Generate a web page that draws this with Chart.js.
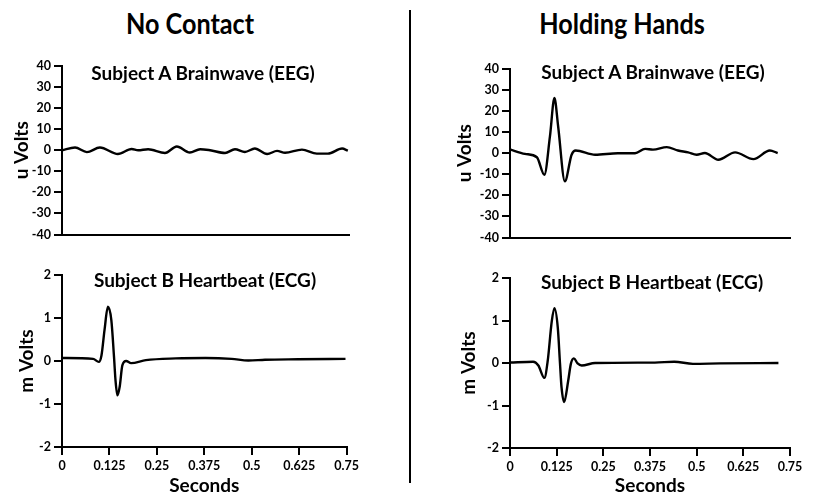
<!DOCTYPE html>
<html>
<head>
<meta charset="utf-8">
<script src="https://cdn.jsdelivr.net/npm/chart.js@4/dist/chart.umd.min.js"></script>
<style>
  body { margin: 0; background: #fff; }
  #page { position: relative; width: 813px; height: 495px; overflow: hidden; font-family: Lato, "Open Sans", sans-serif; color: #000; }
  canvas { position: absolute; }
  .head { position: absolute; top: 9px; width: 300px; text-align: center; font-weight: 700; font-size: 28px; line-height: 28px; transform: scaleX(0.9); }
  .sub { position: absolute; width: 300px; text-align: center; font-weight: 700; font-size: 19px; line-height: 19px; }
  #divider { position: absolute; left: 409px; top: 10px; width: 2px; height: 473px; background: #000; }
</style>
</head>
<body>
<div id="page">
  <div class="head" style="left:40px">No Contact</div>
  <div class="head" style="left:472px">Holding Hands</div>
  <div id="divider"></div>

  <canvas id="eeg-left"  width="362" height="195" style="left:0;top:50px"></canvas>
  <canvas id="ecg-left"  width="362" height="240" style="left:0;top:255px"></canvas>
  <canvas id="eeg-right" width="365" height="198" style="left:448px;top:50px"></canvas>
  <canvas id="ecg-right" width="365" height="240" style="left:448px;top:255px"></canvas>

  <div class="sub" style="left:53px;top:63px">Subject A Brainwave (EEG)</div>
  <div class="sub" style="left:503px;top:62px">Subject A Brainwave (EEG)</div>
  <div class="sub" style="left:55px;top:270px">Subject B Heartbeat (ECG)</div>
  <div class="sub" style="left:502px;top:272px">Subject B Heartbeat (ECG)</div>
</div>

<script>
// ─── Donnees ────────────────────────────────────────────────────────────────
const xTicks      = [0, 0.125, 0.25, 0.375, 0.5, 0.625, 0.75];
const xTickLabels = ['0', '0.125', '0.25', '0.375', '0.5', '0.625', '0.75'];
const eegTicks    = [-40, -30, -20, -10, 0, 10, 20, 30, 40];
const ecgTicks    = [-2, -1, 0, 1, 2];

// EEG sans contact (uV)
const eegNoContactT = [0, 0.034, 0.065, 0.099, 0.146, 0.182, 0.199, 0.225, 0.269, 0.300, 0.334, 0.361, 0.387,
                       0.426, 0.452, 0.478, 0.504, 0.536, 0.562, 0.583, 0.627, 0.666, 0.695, 0.732, 0.747];
const eegNoContactV = [0, 1.3, -0.9, 1.3, -1.8, 0.6, 0.0, 0.5, -1.3, 1.8, -1.1, 0.5, 0.0,
                       -1.3, 0.5, -0.8, 0.8, -1.8, -0.3, -1.2, 0.3, -1.6, -1.6, 0.8, -0.2];

// EEG main dans la main (uV)
const eegHandsT = [0, 0.040, 0.072, 0.092, 0.107, 0.119, 0.129, 0.147, 0.165, 0.176, 0.228, 0.289, 0.335,
                   0.362, 0.383, 0.420, 0.450, 0.477, 0.500, 0.522, 0.558, 0.603, 0.652, 0.696, 0.717];
const eegHandsV = [1.8, -0.3, -1.9, -10.2, 8, 26.2, 12.7, -13.3, -0.7, 1.3, -0.7, 0, 0,
                   2.1, 1.7, 2.9, 1.3, 0.4, -0.7, 0.1, -3.1, 0.4, -2.8, 1.3, 0.1];

// ECG sans contact (mV)
const ecgNoContactT = [0, 0.082, 0.097, 0.104, 0.112, 0.121, 0.130, 0.137, 0.141, 0.146, 0.152, 0.159, 0.169,
                       0.182, 0.221, 0.300, 0.378, 0.447, 0.491, 0.535, 0.622, 0.747];
const ecgNoContactV = [0.07, 0.05, -0.02, 0.13, 0.72, 1.26, 0.95, 0.1, -0.45, -0.8, -0.6, -0.1, 0.0,
                       -0.05, 0.02, 0.06, 0.07, 0.05, 0.01, 0.03, 0.04, 0.05];

// ECG main dans la main (mV)
const ecgHandsT = [0, 0.062, 0.076, 0.092, 0.101, 0.112, 0.119, 0.128, 0.134, 0.138, 0.145, 0.156, 0.163,
                   0.171, 0.181, 0.192, 0.228, 0.388, 0.440, 0.490, 0.563, 0.719];
const ecgHandsV = [0.01, 0.03, -0.06, -0.35, 0.05, 0.99, 1.29, 0.83, -0.02, -0.57, -0.92, -0.41, -0.02,
                   0.11, -0.01, -0.06, 0, 0.01, 0.03, -0.02, -0.01, 0];

// ─── Construction d'un panneau ──────────────────────────────────────────────
const FONT = 'Lato, "Open Sans", sans-serif';
const BLACK = '#000';

function makePanel(id, times, values, o) {
  const points = times.map((t, i) => ({ x: t, y: values[i] }));
  const axisGrid = { display: true, drawOnChartArea: false, drawTicks: true, tickLength: 8, color: BLACK, lineWidth: 2 };
  return new Chart(document.getElementById(id), {
    type: 'line',
    data: {
      datasets: [{
        data: points,
        borderColor: BLACK,
        borderWidth: 2.4,
        pointRadius: 0,
        cubicInterpolationMode: 'monotone',
        fill: false,
      }],
    },
    options: {
      responsive: false,
      animation: false,
      layout: { padding: { top: o.padTop, right: o.padRight, left: 0, bottom: 0 } },
      plugins: { legend: { display: false }, tooltip: { enabled: false } },
      scales: {
        x: {
          type: 'linear', min: 0, max: 0.75,
          afterBuildTicks: s => { s.ticks = xTicks.map(v => ({ value: v })); },
          afterFit: s => { s.height = o.xHeight; },
          border: { display: true, color: BLACK, width: 2 },
          grid: Object.assign({}, axisGrid, { drawTicks: o.showX }),
          ticks: {
            display: o.showX, autoSkip: false, maxRotation: 0, padding: 3, color: BLACK,
            font: { family: FONT, size: 12.5, weight: 'bold' },
            callback: (v, i) => xTickLabels[i],
          },
          title: {
            display: o.showX, text: 'Seconds', color: BLACK,
            font: { family: FONT, size: 19, weight: 'bold', lineHeight: 1 },
            padding: { top: 0, bottom: 0 },
          },
        },
        y: {
          min: o.yTicks[0], max: o.yTicks[o.yTicks.length - 1],
          afterBuildTicks: s => { s.ticks = o.yTicks.map(v => ({ value: v })); },
          afterFit: s => { s.width = 62; },
          border: { display: true, color: BLACK, width: 2 },
          grid: axisGrid,
          ticks: {
            padding: 3, color: BLACK,
            font: { family: FONT, size: 12.5, weight: 'bold' },
            callback: v => String(v),
          },
          title: {
            display: true, text: o.yTitle, color: BLACK,
            font: { family: FONT, size: 19, weight: 'bold', lineHeight: 1 },
            padding: { top: o.yTitlePad, bottom: 0 },
          },
        },
      },
    },
  });
}

makePanel('eeg-left', eegNoContactT, eegNoContactV,
  { yTicks: eegTicks, yTitle: 'u Volts', yTitlePad: 12.5, showX: false, xHeight: 10, padTop: 16, padRight: 13 });
makePanel('ecg-left', ecgNoContactT, ecgNoContactV,
  { yTicks: ecgTicks, yTitle: 'm Volts', yTitlePad: 17.5, showX: true, xHeight: 48, padTop: 20, padRight: 13 });
makePanel('eeg-right', eegHandsT, eegHandsV,
  { yTicks: eegTicks, yTitle: 'u Volts', yTitlePad: 7.5, showX: false, xHeight: 10, padTop: 19, padRight: 23 });
makePanel('ecg-right', ecgHandsT, ecgHandsV,
  { yTicks: ecgTicks, yTitle: 'm Volts', yTitlePad: 11.5, showX: true, xHeight: 47, padTop: 23, padRight: 23 });
</script>
</body>
</html>
